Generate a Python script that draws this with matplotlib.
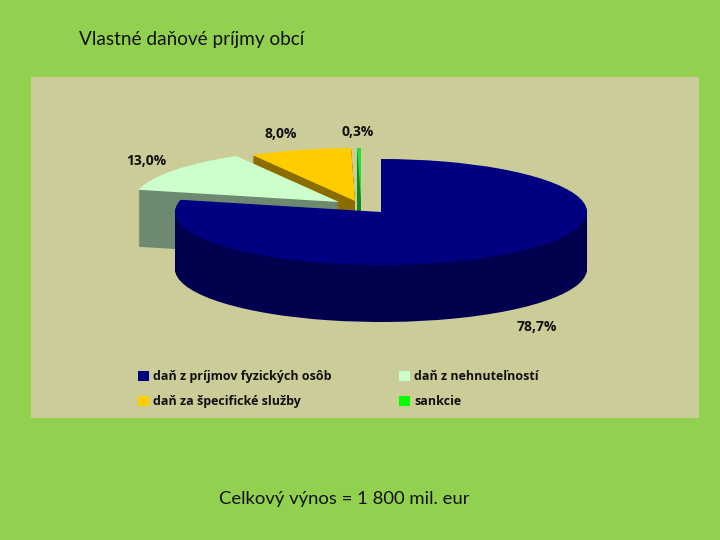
import matplotlib
matplotlib.use('Agg')
import matplotlib.pyplot as plt
from matplotlib.patches import Wedge, Rectangle
from matplotlib.transforms import Affine2D

title = 'Vlastné daňové príjmy obcí'
footer = 'Celkový výnos = 1 800 mil. eur'
categories = ['daň z príjmov fyzických osôb', 'daň z nehnuteľností',
              'daň za špecifické služby', 'sankcie']
shares = [78.7, 13.0, 8.0, 0.3]

colors = ['#000080', '#ccffcc', '#ffcc00', '#22e03a']
legend_colors = ['#000080', '#ccffcc', '#ffcc00', '#00ff00']
wall_colors = ['#00004f', '#6d8a70', '#8a6c00', '#0b8a20']

# pixel layout of the exploded slices (from the top-left of the image)
apex = [(381, 212), (339, 202), (355, 201), (361, 201)]
label_pos = [(537, 327), (146, 161), (281, 134), (358, 132)]
RX, RY, DEPTH = 206, 53, 57

fig = plt.figure(figsize=(7.2, 5.4), dpi=100, facecolor='#92d050')
ax = fig.add_axes([0, 0, 1, 1])
ax.set_xlim(0, 720)
ax.set_ylim(540, 0)
ax.axis('off')

ax.add_patch(Rectangle((31, 77), 668, 341, facecolor='#cccc99', edgecolor='none', zorder=0))

# slice angles, clockwise from 12 o'clock
bounds = []
start = 0.0
for s in shares:
    bounds.append((start, start + s * 3.6))
    start += s * 3.6


def draw_slice(i, z):
    a0, a1 = bounds[i]
    cx, cy = apex[i]
    for d in range(DEPTH, -1, -1):
        col = colors[i] if d == 0 else wall_colors[i]
        tr = Affine2D().scale(RX, -RY).translate(cx, cy + d) + ax.transData
        ax.add_patch(Wedge((0, 0), 1, 90 - a1, 90 - a0, facecolor=col, edgecolor='none',
                           linewidth=0, transform=tr, zorder=z))


# back to front
for z, i in enumerate([3, 2, 1, 0]):
    draw_slice(i, z + 1)

label_font = ['Open Sans', 'DejaVu Sans']
for s, (x, y) in zip(shares, label_pos):
    txt = f'{s:.1f}%'.replace('.', ',')
    ax.text(x, y, txt, ha='center', va='center', fontsize=10, fontweight='bold',
            family=label_font, color='#111111', zorder=10)

handles = [Rectangle((0, 0), 1, 1, facecolor=c, edgecolor='none') for c in legend_colors]
# legend fills column by column, so reorder to keep the row layout
order = [0, 2, 1, 3]
leg = ax.legend([handles[i] for i in order], [categories[i] for i in order], ncol=2,
                loc='upper left', bbox_to_anchor=(127 / 720, 1 - 359 / 540), frameon=False,
                prop={'family': label_font, 'size': 9, 'weight': 'bold'},
                handlelength=0.85, handleheight=0.85, handletextpad=0.35,
                columnspacing=5.4, labelspacing=0.95, borderpad=0.4, labelcolor='#111111')
leg.set_zorder(10)

ax.text(79, 39, title, ha='left', va='center', fontsize=13.7, family=['Lato', 'DejaVu Sans'],
        color='#111111')
ax.text(344, 499, footer, ha='center', va='center', fontsize=13.3, family=['Lato', 'DejaVu Sans'],
        color='#111111')

fig.savefig('out.png', dpi=100, facecolor=fig.get_facecolor())
